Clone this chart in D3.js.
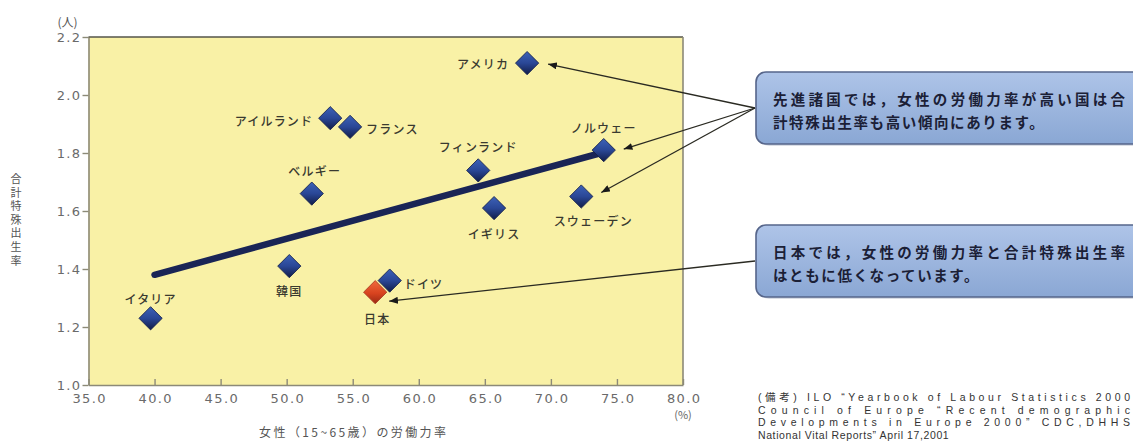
<!DOCTYPE html>
<html lang="ja">
<head>
<meta charset="utf-8">
<script src="https://cdn.jsdelivr.net/npm/d3@7"></script>
<style>
  html, body { margin: 0; padding: 0; background: #ffffff; }
  svg { display: block; }
  text { font-family: "Noto Sans CJK JP", "Noto Sans", sans-serif; }
</style>
</head>
<body>
<svg id="chart" width="1133" height="441"></svg>
<script>
// 国別：女性(15~65歳)の労働力率(%) と 合計特殊出生率(人)
const countries = ["アメリカ", "アイルランド", "フランス", "ベルギー", "フィンランド", "ノルウェー",
                   "スウェーデン", "イギリス", "韓国", "イタリア", "ドイツ", "日本"];
const laborRate = [68.2, 53.3, 54.8, 51.9, 64.5, 74.0, 72.3, 65.7, 50.2, 39.7, 57.8, 56.7];
const fertility = [2.11, 1.92, 1.89, 1.66, 1.74, 1.81, 1.65, 1.61, 1.41, 1.23, 1.36, 1.32];

// 近似直線の両端 [労働力率, 出生率]
const trendStart = [40.0, 1.38];
const trendEnd = [73.8, 1.80];

const xTicks = [35, 40, 45, 50, 55, 60, 65, 70, 75, 80];
const yTicks = [1.0, 1.2, 1.4, 1.6, 1.8, 2.0, 2.2];

const highlightCountry = "日本";
const groupCallout = ["先進諸国では，女性の労働力率が高い国は合", "計特殊出生率も高い傾向にあります。"];
const groupTargets = ["アメリカ", "ノルウェー", "スウェーデン"];
const japanCallout = ["日本では，女性の労働力率と合計特殊出生率", "はともに低くなっています。"];
const sourceLines = [
  "(備考) ILO \u201CYearbook of Labour Statistics 2000",
  "Council of Europe  \u201CRecent demographic",
  "Developments in Europe 2000\u201D CDC,DHHS",
  "National Vital Reports\u201D April 17,2001"
];

// ラベル配置（点の中心からのずれ）
const labelPlacement = {
  "アメリカ":     { dx: -18, dy: 0,   anchor: "end" },
  "アイルランド": { dx: -17, dy: 2,   anchor: "end" },
  "フランス":     { dx: 16,  dy: 2,   anchor: "start" },
  "ベルギー":     { dx: 3,   dy: -23, anchor: "middle" },
  "フィンランド": { dx: 0,   dy: -24, anchor: "middle" },
  "ノルウェー":   { dx: 0,   dy: -23, anchor: "middle" },
  "スウェーデン": { dx: 12,  dy: 24,  anchor: "middle" },
  "イギリス":     { dx: 0,   dy: 25,  anchor: "middle" },
  "韓国":         { dx: 0,   dy: 24,  anchor: "middle" },
  "イタリア":     { dx: 0,   dy: -20, anchor: "middle" },
  "ドイツ":       { dx: 14,  dy: 3,   anchor: "start" },
  "日本":         { dx: 2,   dy: 26,  anchor: "middle" }
};

const points = countries.map((c, i) => ({ country: c, x: laborRate[i], y: fertility[i] }));

const svg = d3.select("#chart");
const plot = { left: 88.5, right: 683, top: 37, bottom: 385 };

const x = d3.scaleLinear().domain([35, 80]).range([plot.left, plot.right]);
const y = d3.scaleLinear().domain([1.0, 2.2]).range([plot.bottom, plot.top]);

// ---- defs: gradients and arrowhead ----
const defs = svg.append("defs");
const blueGrad = defs.append("linearGradient").attr("id", "gBlue")
  .attr("x1", "0%").attr("y1", "0%").attr("x2", "100%").attr("y2", "100%");
blueGrad.append("stop").attr("offset", "0%").attr("stop-color", "#3d62b8");
blueGrad.append("stop").attr("offset", "50%").attr("stop-color", "#2a4796");
blueGrad.append("stop").attr("offset", "100%").attr("stop-color", "#111c48");

const redGrad = defs.append("linearGradient").attr("id", "gRed")
  .attr("x1", "0%").attr("y1", "0%").attr("x2", "100%").attr("y2", "100%");
redGrad.append("stop").attr("offset", "0%").attr("stop-color", "#f06a3c");
redGrad.append("stop").attr("offset", "55%").attr("stop-color", "#d8431f");
redGrad.append("stop").attr("offset", "100%").attr("stop-color", "#9a2a14");

const boxGrad = defs.append("linearGradient").attr("id", "gBox")
  .attr("x1", "0%").attr("y1", "0%").attr("x2", "0%").attr("y2", "100%");
boxGrad.append("stop").attr("offset", "0%").attr("stop-color", "#aec4e8");
boxGrad.append("stop").attr("offset", "100%").attr("stop-color", "#8aa7d4");

defs.append("marker").attr("id", "arrowHead")
  .attr("viewBox", "0 0 10 8").attr("refX", 10).attr("refY", 4)
  .attr("markerUnits", "userSpaceOnUse")
  .attr("markerWidth", 9).attr("markerHeight", 7).attr("orient", "auto")
  .append("path").attr("d", "M0,0 L10,4 L0,8 Z").attr("fill", "#1a1a1a");

// ---- plot background ----
svg.append("rect")
  .attr("x", x(35)).attr("y", y(2.2))
  .attr("width", x(80) - x(35)).attr("height", y(1.0) - y(2.2))
  .attr("fill", "#f9f1a6");

// ---- axes ----
const yAxis = d3.axisLeft(y).tickValues(yTicks).tickFormat(d3.format(".1f"))
  .tickSizeInner(6).tickSizeOuter(0).tickPadding(1);
const gy = svg.append("g").attr("transform", `translate(${x(35)},0)`).call(yAxis);

const xAxis = d3.axisBottom(x).tickValues(xTicks).tickFormat(d3.format(".1f"))
  .tickSizeInner(-6).tickSizeOuter(0).tickPadding(9);
const gx = svg.append("g").attr("transform", `translate(0,${y(1.0)})`).call(xAxis);

[gx, gy].forEach(g => {
  g.select(".domain").attr("stroke", "#8c8a78").attr("stroke-width", 1.6);
  g.selectAll(".tick line").attr("stroke", "#8c8a78").attr("stroke-width", 1.4);
  g.selectAll(".tick text")
    .attr("fill", "#6a6a6a")
    .style("font-family", "'DejaVu Sans', sans-serif")
    .style("font-size", "13px")
    .style("letter-spacing", "1.4px");
});
gx.selectAll(".tick text").attr("dx", "0.7px");

// frame: top (dark) and right (gray)
svg.append("line")
  .attr("x1", x(35)).attr("x2", x(80)).attr("y1", y(2.2)).attr("y2", y(2.2))
  .attr("stroke", "#55544a").attr("stroke-width", 1.6);
svg.append("line")
  .attr("x1", x(80)).attr("x2", x(80)).attr("y1", y(2.2)).attr("y2", y(1.0))
  .attr("stroke", "#8c8a78").attr("stroke-width", 1.6);

// unit labels
svg.append("text").attr("x", x(35) - 21).attr("y", 21)
  .attr("text-anchor", "middle").attr("dominant-baseline", "central")
  .attr("fill", "#555").style("font-size", "12px").text("(人)");
svg.append("text").attr("x", x(80)).attr("y", y(1.0) + 29)
  .attr("text-anchor", "middle").attr("dominant-baseline", "central")
  .attr("fill", "#666").style("font-size", "11px").text("(%)");

// axis titles
svg.append("text").attr("x", (x(35) + x(80)) / 2 - 32).attr("y", 431)
  .attr("text-anchor", "middle").attr("dominant-baseline", "central")
  .attr("fill", "#555").style("font-size", "12px").style("letter-spacing", "2.4px")
  .text("女性（15~65歳）の労働力率");

svg.append("text")
  .attr("x", 16).attr("y", 221)
  .attr("text-anchor", "middle")
  .style("writing-mode", "vertical-rl")
  .style("letter-spacing", "2.6px")
  .attr("fill", "#555").style("font-size", "11px")
  .text("合計特殊出生率");

// ---- trend line ----
svg.append("line")
  .attr("x1", x(trendStart[0])).attr("y1", y(trendStart[1]))
  .attr("x2", x(trendEnd[0])).attr("y2", y(trendEnd[1]))
  .attr("stroke", "#1a2556").attr("stroke-width", 6.5).attr("stroke-linecap", "round");

// ---- markers (Japan drawn first so Germany overlaps it) ----
const diamond = d3.symbol().type(d3.symbolSquare).size(270);
const ordered = points.slice().sort((a, b) =>
  (a.country === highlightCountry ? 0 : 1) - (b.country === highlightCountry ? 0 : 1));
svg.append("g").selectAll("path").data(ordered).join("path")
  .attr("d", diamond)
  .attr("transform", d => `translate(${x(d.x)},${y(d.y)}) rotate(45)`)
  .attr("fill", d => d.country === highlightCountry ? "url(#gRed)" : "url(#gBlue)")
  .attr("stroke", d => d.country === highlightCountry ? "#a83a22" : "#14204c")
  .attr("stroke-width", 0.8);

// country labels
svg.append("g").selectAll("text").data(points).join("text")
  .attr("x", d => x(d.x) + labelPlacement[d.country].dx)
  .attr("y", d => y(d.y) + labelPlacement[d.country].dy)
  .attr("text-anchor", d => labelPlacement[d.country].anchor)
  .attr("dominant-baseline", "central")
  .attr("fill", "#3a3a30")
  .style("font-size", "12px").style("font-weight", "500").style("letter-spacing", "1.2px")
  .text(d => d.country);

// ---- callouts ----
function callout(top, lines) {
  const g = svg.append("g");
  g.append("rect").attr("x", 759).attr("y", top + 2).attr("width", 400).attr("height", 72)
    .attr("rx", 10).attr("fill", "#c9cfda").attr("opacity", 0.7);
  g.append("rect").attr("x", 756).attr("y", top).attr("width", 400).attr("height", 72)
    .attr("rx", 10).attr("fill", "url(#gBox)")
    .attr("stroke", "#56658a").attr("stroke-width", 1.6);
  g.append("text").attr("x", 773).attr("y", top + 26)
    .attr("dominant-baseline", "central")
    .attr("textLength", 352).attr("lengthAdjust", "spacing")
    .attr("fill", "#1b2036").style("font-size", "14.5px").style("font-weight", "700")
    .text(lines[0]);
  g.append("text").attr("x", 773).attr("y", top + 49)
    .attr("dominant-baseline", "central")
    .attr("fill", "#1b2036").style("font-size", "14.5px").style("font-weight", "700")
    .style("letter-spacing", "1.6px")
    .text(lines[1]);
  return { x: 755, y: top + 36 };
}

const groupAnchor = callout(72, groupCallout);
const japanAnchor = callout(225, japanCallout);

// arrow tip offsets from the point centre
const tipOffset = {
  "アメリカ": [21, 1], "ノルウェー": [20, -1], "スウェーデン": [20, -4], "日本": [14, 9]
};
const arrows = groupTargets.map(c => ({ from: groupAnchor, to: points.find(p => p.country === c) }))
  .concat([{ from: japanAnchor, to: points.find(p => p.country === highlightCountry) }]);

svg.append("g").selectAll("line").data(arrows).join("line")
  .attr("x1", d => d.from.x).attr("y1", d => d.from.y)
  .attr("x2", d => x(d.to.x) + tipOffset[d.to.country][0])
  .attr("y2", d => y(d.to.y) + tipOffset[d.to.country][1])
  .attr("stroke", "#2a2a22").attr("stroke-width", 1.3)
  .attr("marker-end", "url(#arrowHead)");

// ---- source note ----
svg.append("g").selectAll("text").data(sourceLines).join("text")
  .attr("x", 758)
  .attr("y", (d, i) => 397 + i * 12.5)
  .attr("dominant-baseline", "central")
  .attr("textLength", (d, i) => i < 3 ? 372 : null)
  .attr("lengthAdjust", "spacing")
  .attr("fill", "#333")
  .style("font-family", "'Liberation Sans', 'Noto Sans CJK JP', sans-serif")
  .style("font-size", "10.5px")
  .style("letter-spacing", (d, i) => i < 3 ? null : "0.6px")
  .text(d => d);
</script>
</body>
</html>
